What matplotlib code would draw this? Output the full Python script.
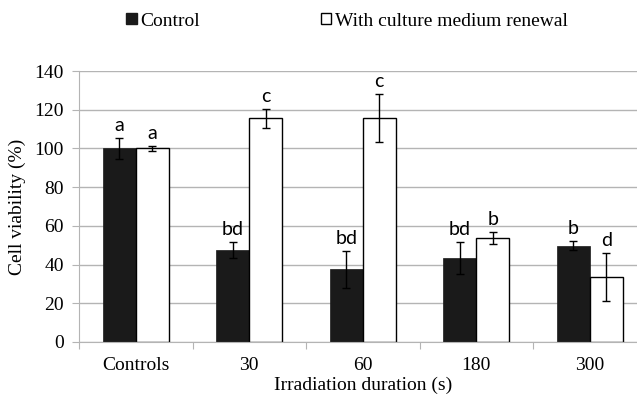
import numpy as np
import matplotlib
matplotlib.use("Agg")
import matplotlib.pyplot as plt
from matplotlib.patches import Patch

# data
categories = ["Controls", "30", "60", "180", "300"]
control = [100, 47.5, 37.5, 43.5, 49.8]
control_err = [5.6, 4.3, 9.4, 8.3, 2.2]
renewal = [100, 115.6, 115.6, 53.7, 33.7]
renewal_err = [1.3, 4.9, 12.5, 3.1, 12.5]
control_letters = ["a", "bd", "bd", "bd", "b"]
renewal_letters = ["a", "c", "c", "b", "d"]

plt.rcParams['font.family'] = ['Liberation Serif', 'DejaVu Serif']
plt.rcParams['font.size'] = 14

fig = plt.figure(figsize=(6.37, 4.0), dpi=100)
ax = fig.add_axes([79 / 637, 58 / 400, 567.5 / 637, 271 / 400])

x = np.arange(len(categories))
w = 0.29
grid_col = "#b4b4b4"

b1 = ax.bar(x - w / 2, control, w, color="#1a1a1a", edgecolor="#1a1a1a",
            linewidth=0.5, zorder=2)
b2 = ax.bar(x + w / 2, renewal, w, color="white", edgecolor="black",
            linewidth=1.0, zorder=2)
ax.errorbar(x - w / 2, control, yerr=control_err, fmt="none", ecolor="black",
            elinewidth=1, capsize=3, capthick=1, zorder=3)
ax.errorbar(x + w / 2, renewal, yerr=renewal_err, fmt="none", ecolor="black",
            elinewidth=1, capsize=3, capthick=1, zorder=3)

# significance letters
for xi, v, e, t in zip(x - w / 2, control, control_err, control_letters):
    ax.annotate(t, (xi, v + e), xytext=(0, 5), textcoords="offset points",
                ha="center", va="baseline", fontsize=14, family="Lato")
for xi, v, e, t in zip(x + w / 2, renewal, renewal_err, renewal_letters):
    ax.annotate(t, (xi, v + e), xytext=(0, 5), textcoords="offset points",
                ha="center", va="baseline", fontsize=14, family="Lato")

ax.set_xlim(-0.5, len(categories) - 0.5)
ax.set_ylim(0, 140)
ax.set_yticks(np.arange(0, 141, 20))
ax.yaxis.grid(True, color=grid_col, linewidth=1.0, zorder=0)
ax.set_axisbelow(True)

# boundary ticks with no labels, category names on minor ticks
ax.set_xticks(np.arange(-0.5, len(categories), 1.0))
ax.set_xticklabels([])
ax.set_xticks(x, minor=True)
ax.set_xticklabels(categories, minor=True)
ax.tick_params(axis="x", which="major", length=5, color=grid_col)
ax.tick_params(axis="x", which="minor", length=0, pad=11)
ax.tick_params(axis="y", length=5, color=grid_col, pad=6)

for s in ["top", "right"]:
    ax.spines[s].set_visible(False)
for s in ["left", "bottom"]:
    ax.spines[s].set_color(grid_col)

ax.set_xlabel("Irradiation duration (s)", labelpad=2)
ax.set_ylabel("Cell viability (%)", labelpad=6)

handles = [Patch(facecolor="#1a1a1a", edgecolor="#1a1a1a"),
           Patch(facecolor="white", edgecolor="black", linewidth=1)]
fig.legend(handles, ["Control", "With culture medium renewal"],
           loc="center left", bbox_to_anchor=(126 / 637, 1 - 21 / 400),
           ncol=2, frameon=False, borderpad=0, borderaxespad=0,
           handlelength=0.55, handleheight=0.5, handletextpad=0.2,
           columnspacing=6.2, fontsize=14)

fig.savefig("out.png", dpi=100)
